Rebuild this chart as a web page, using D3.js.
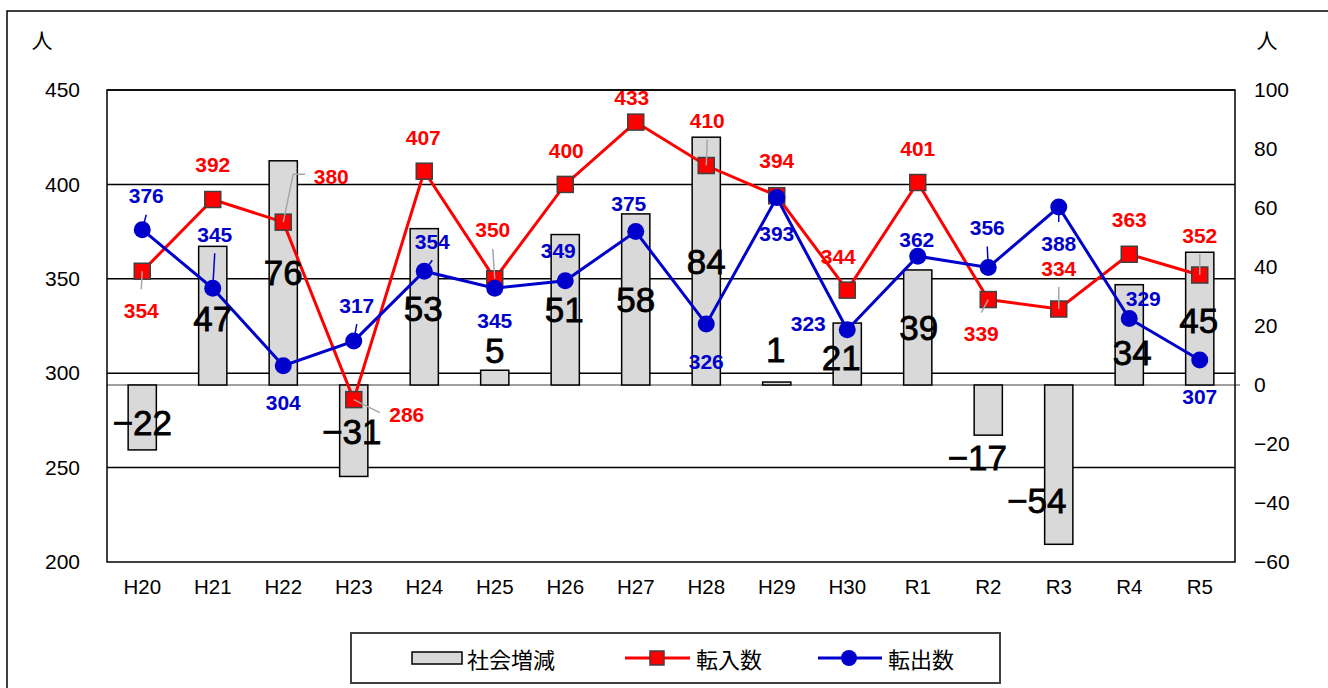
<!DOCTYPE html>
<html lang="ja">
<head>
<meta charset="utf-8">
<title>社会増減・転入数・転出数</title>
<script src="https://cdn.jsdelivr.net/npm/d3@7"></script>
<style>
  html, body { margin: 0; padding: 0; background: #fff; }
  svg { display: block; }
  .tick-label { font-family: "Liberation Sans", Arial, sans-serif; font-size: 21px; fill: #000; }
  .val-label { font-family: "Liberation Sans", Arial, sans-serif; font-size: 21px; font-weight: bold; }
  .bar-label { font-family: "Liberation Sans", Arial, sans-serif; font-size: 35px; fill: #000;
               stroke: #000; stroke-width: 0.8px; }
  .jp { font-family: "Noto Sans CJK JP", sans-serif; fill: #000; }
</style>
</head>
<body>
<svg id="chart" width="1328" height="688"></svg>
<script>
/* 社会増減（棒・右軸）と転入数・転出数（折れ線・左軸） */

const categories = ["H20", "H21", "H22", "H23", "H24", "H25", "H26", "H27",
                    "H28", "H29", "H30", "R1", "R2", "R3", "R4", "R5"];
const socialChange = [-22, 47, 76, -31, 53, 5, 51, 58, 84, 1, 21, 39, -17, -54, 34, 45];
const moveIn  = [354, 392, 380, 286, 407, 350, 400, 433, 410, 394, 344, 401, 339, 334, 363, 352];
const moveOut = [376, 345, 304, 317, 354, 345, 349, 375, 326, 393, 323, 362, 356, 388, 329, 307];
const leftTicks = [200, 250, 300, 350, 400, 450];
const rightTicks = [-60, -40, -20, 0, 20, 40, 60, 80, 100];
const legendNames = ["社会増減", "転入数", "転出数"];

// label placement (offset from the mark, in px) – hand-placed like the original
const inLabelOffset = [[-1, 39], [0, -35], [48, -46], [53, 15], [-1, -34], [-2, -49], [1, -34], [-4, -25],
                       [1, -45], [0, -35], [-9, -34], [0, -34], [-7, 34], [0, -41], [0, -35], [0, -40]];
const inLeader = ["v", null, "elbow", "h", null, "v", null, null, "v", null, null, null, "v", "v", null, "v"];
const outLabelOffset = [[4, -34], [2, -54], [0, 37], [3, -36], [8, -30], [0, 32], [-7, -30], [-7, -28],
                        [0, 37], [0, 36], [-39, -6], [-1, -17], [-1, -40], [0, 36], [14, -20], [0, 37]];
const outLeader = ["v", "v", null, "v", "v", null, null, null, null, null, null, null, "v", "v", null, null];
const barLabelOffset = [[0, -27], [0, 72], [0, 112], [-2, -45], [-1, 80], [0, -20], [-1, 75], [0, 86],
                        [0, 124], [-1, -33], [-6, 34], [1, 58], [-11, 22], [-22, -44], [3, 68], [-1, 68]];

(function () {
  const svg = d3.select("#chart");
  const plot = { left: 107, right: 1235, top: 90, bottom: 562 };
  const RED = "#ff0000", BLUE = "#0000cc";

  const x = d3.scaleBand().domain(categories)
    .range([plot.left, plot.right]).paddingInner(0.6).paddingOuter(0.3);
  const cx = i => x(categories[i]) + x.bandwidth() / 2;
  const yL = d3.scaleLinear().domain([200, 450]).range([plot.bottom, plot.top]);
  const yR = d3.scaleLinear().domain([-60, 100]).range([plot.bottom, plot.top]);

  // outer frame
  svg.append("rect").attr("x", 7).attr("y", 11).attr("width", 1340).attr("height", 700)
    .attr("fill", "none").attr("stroke", "#000").attr("stroke-width", 1.5);

  // gridlines (left axis)
  svg.append("g").selectAll("line").data(leftTicks.slice(1)).join("line")
    .attr("x1", plot.left).attr("x2", plot.right)
    .attr("y1", d => yL(d)).attr("y2", d => yL(d))
    .attr("stroke", "#000").attr("stroke-width", 1.5);

  // zero line of right axis
  svg.append("line").attr("x1", plot.left).attr("x2", plot.right + 5)
    .attr("y1", yR(0)).attr("y2", yR(0))
    .attr("stroke", "#808080").attr("stroke-width", 1.5);

  // plot border
  svg.append("rect").attr("x", plot.left).attr("y", plot.top)
    .attr("width", plot.right - plot.left).attr("height", plot.bottom - plot.top)
    .attr("fill", "none").attr("stroke", "#000").attr("stroke-width", 1.5);

  // axes
  const axL = svg.append("g").attr("transform", `translate(${plot.left},0)`)
    .call(d3.axisLeft(yL).tickValues(leftTicks).tickSize(0).tickPadding(27));
  const axR = svg.append("g").attr("transform", `translate(${plot.right},0)`)
    .call(d3.axisRight(yR).tickValues(rightTicks).tickSize(0).tickPadding(19));
  const axB = svg.append("g").attr("transform", `translate(0,${plot.bottom})`)
    .call(d3.axisBottom(x).tickSize(0).tickPadding(17));
  [axL, axR, axB].forEach(a => {
    a.select(".domain").remove();
    a.selectAll("text").attr("class", "tick-label").attr("font-family", null).attr("font-size", null);
  });
  axB.selectAll("text").style("font-size", "20.5px");

  // unit labels
  svg.append("text").attr("class", "jp").attr("x", 42).attr("y", 39)
    .attr("text-anchor", "middle").attr("dominant-baseline", "central").style("font-size", "21px").text("人");
  svg.append("text").attr("class", "jp").attr("x", 1267).attr("y", 39)
    .attr("text-anchor", "middle").attr("dominant-baseline", "central").style("font-size", "21px").text("人");

  // bars
  svg.append("g").selectAll("rect").data(socialChange).join("rect")
    .attr("x", (d, i) => x(categories[i]))
    .attr("width", x.bandwidth())
    .attr("y", d => Math.min(yR(d), yR(0)))
    .attr("height", d => Math.abs(yR(d) - yR(0)))
    .attr("fill", "#d9d9d9").attr("stroke", "#000").attr("stroke-width", 1.5);

  // lines
  const line = yScale => d3.line().x((d, i) => cx(i)).y(d => yScale(d));
  svg.append("path").datum(moveIn).attr("d", line(yL))
    .attr("fill", "none").attr("stroke", RED).attr("stroke-width", 3);
  svg.append("g").selectAll("rect").data(moveIn).join("rect")
    .attr("x", (d, i) => cx(i) - 8).attr("y", d => yL(d) - 8)
    .attr("width", 16).attr("height", 16)
    .attr("fill", RED).attr("stroke", "#404040").attr("stroke-width", 1.5);

  svg.append("path").datum(moveOut).attr("d", line(yL))
    .attr("fill", "none").attr("stroke", BLUE).attr("stroke-width", 3);
  svg.append("g").selectAll("circle").data(moveOut).join("circle")
    .attr("cx", (d, i) => cx(i)).attr("cy", d => yL(d)).attr("r", 8.5)
    .attr("fill", BLUE);

  // leader lines
  function leaderPath(type, px, py, lx, ly) {
    if (type === "v") {
      const s = ly < py ? 19 : -21;
      return `M${px},${py}L${lx},${ly + s}`;
    }
    if (type === "h") return `M${px},${py}L${lx - 27},${ly - 2}`;
    if (type === "elbow") return `M${px},${py}L${lx - 38},${ly - 2}L${lx - 26},${ly - 2}`;
    return null;
  }
  const leaders = svg.append("g").attr("fill", "none").attr("stroke-width", 1.5);
  moveIn.forEach((v, i) => {
    const px = cx(i), py = yL(v);
    const p = leaderPath(inLeader[i], px, py, px + inLabelOffset[i][0], py + inLabelOffset[i][1]);
    if (p) leaders.append("path").attr("d", p).attr("stroke", "#a6a6a6");
  });
  moveOut.forEach((v, i) => {
    const px = cx(i), py = yL(v);
    const p = leaderPath(outLeader[i], px, py, px + outLabelOffset[i][0], py + outLabelOffset[i][1]);
    if (p) leaders.append("path").attr("d", p).attr("stroke", BLUE);
  });

  // value labels
  svg.append("g").selectAll("text").data(socialChange).join("text")
    .attr("class", "bar-label")
    .attr("x", (d, i) => cx(i) + barLabelOffset[i][0])
    .attr("y", (d, i) => yR(d) + barLabelOffset[i][1])
    .attr("text-anchor", "middle").attr("dominant-baseline", "central")
    .text(d => d < 0 ? "\u2212" + Math.abs(d) : d);

  svg.append("g").selectAll("text").data(moveIn).join("text")
    .attr("class", "val-label").attr("fill", RED)
    .attr("x", (d, i) => cx(i) + inLabelOffset[i][0])
    .attr("y", (d, i) => yL(d) + inLabelOffset[i][1])
    .attr("text-anchor", "middle").attr("dominant-baseline", "central")
    .text(d => d);

  svg.append("g").selectAll("text").data(moveOut).join("text")
    .attr("class", "val-label").attr("fill", BLUE)
    .attr("x", (d, i) => cx(i) + outLabelOffset[i][0])
    .attr("y", (d, i) => yL(d) + outLabelOffset[i][1])
    .attr("text-anchor", "middle").attr("dominant-baseline", "central")
    .text(d => d);

  // legend
  const lg = svg.append("g");
  lg.append("rect").attr("x", 351).attr("y", 633).attr("width", 649).attr("height", 50)
    .attr("fill", "#fff").attr("stroke", "#404040").attr("stroke-width", 2);
  const ly = 658;
  lg.append("rect").attr("x", 412).attr("y", ly - 6).attr("width", 50).attr("height", 12)
    .attr("fill", "#d9d9d9").attr("stroke", "#000").attr("stroke-width", 1.5);
  lg.append("line").attr("x1", 625).attr("x2", 690).attr("y1", ly).attr("y2", ly)
    .attr("stroke", RED).attr("stroke-width", 3);
  lg.append("rect").attr("x", 650).attr("y", ly - 7).attr("width", 14).attr("height", 14)
    .attr("fill", RED).attr("stroke", "#404040").attr("stroke-width", 1.5);
  lg.append("line").attr("x1", 818).attr("x2", 882).attr("y1", ly).attr("y2", ly)
    .attr("stroke", BLUE).attr("stroke-width", 3);
  lg.append("circle").attr("cx", 849).attr("cy", ly).attr("r", 8).attr("fill", BLUE);
  [[467, 0], [696, 1], [888, 2]].forEach(([tx, k]) => {
    lg.append("text").attr("class", "jp").attr("x", tx).attr("y", ly)
      .attr("dominant-baseline", "central").style("font-size", "22px").text(legendNames[k]);
  });
})();
</script>
</body>
</html>
